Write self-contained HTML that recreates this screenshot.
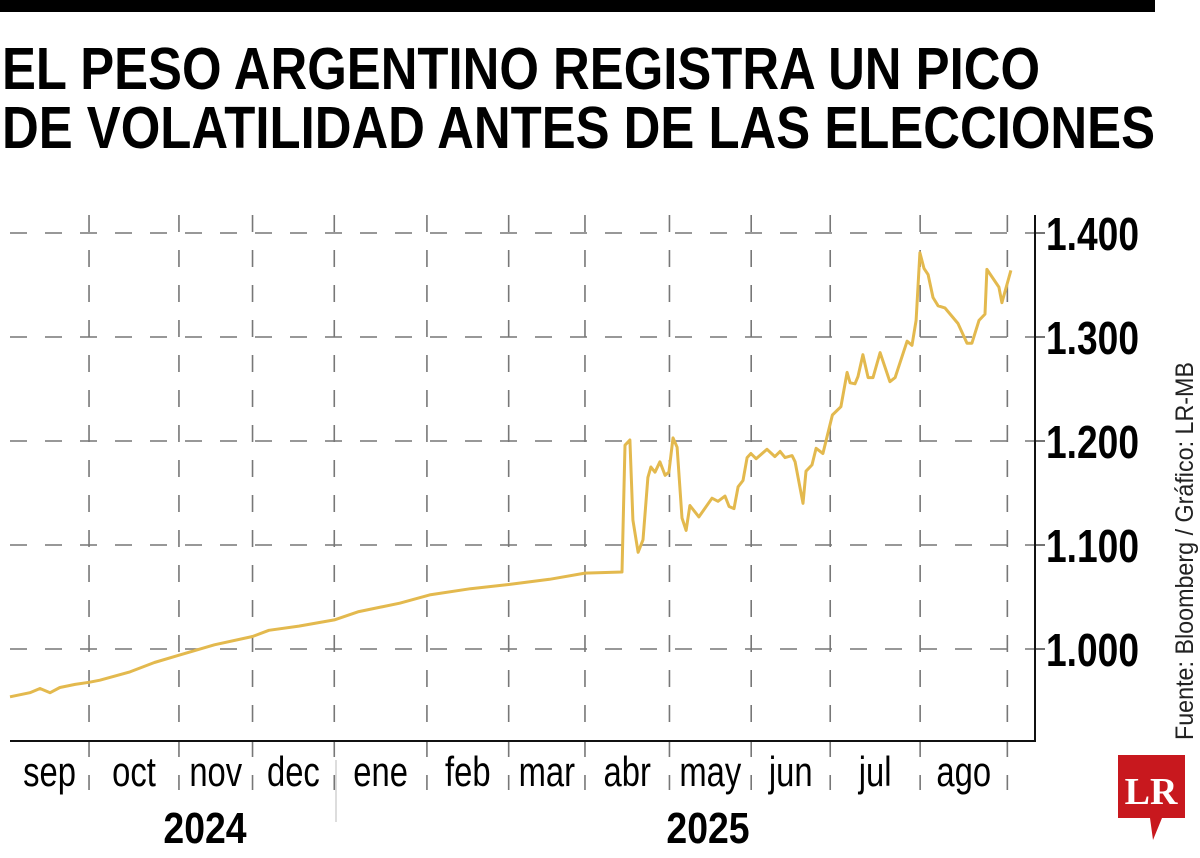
<!DOCTYPE html>
<html><head><meta charset="utf-8"><style>
html,body{margin:0;padding:0;background:#fff;width:1200px;height:858px;overflow:hidden}
svg{display:block}
text{font-family:"Liberation Sans",sans-serif}
</style></head><body>
<svg id="chart" width="1200" height="858" viewBox="0 0 1200 858" xmlns="http://www.w3.org/2000/svg">
<rect x="0" y="0" width="1155" height="12" fill="#000"/>
<text x="2" y="89" font-size="59" font-weight="bold" textLength="1038" lengthAdjust="spacingAndGlyphs">EL PESO ARGENTINO REGISTRA UN PICO</text>
<text x="2" y="148" font-size="59" font-weight="bold" textLength="1153" lengthAdjust="spacingAndGlyphs">DE VOLATILIDAD ANTES DE LAS ELECCIONES</text>
<g id="grid"></g>
<g id="axes"></g>
<g id="series"></g>
<text transform="translate(1193,740) rotate(-90)" font-size="25" textLength="378" lengthAdjust="spacingAndGlyphs" fill="#222">Fuente: Bloomberg / Gráfico: LR-MB</text>
<g>
<path d="M1118 755 H1185 V818 H1162 L1153 840 L1150 818 H1118 Z" fill="#c8181e"/>
<text x="1151" y="804" style="font-family:'Liberation Serif',serif;font-weight:bold" font-size="38" fill="#fff" text-anchor="middle">LR</text>
</g>
</svg>
<script>
const months=["sep","oct","nov","dec","ene","feb","mar","abr","may","jun","jul","ago"];
const monthBounds=[0,29,62,89,119,153,183,211,242,272,301,334,366];
const yTicks=[1000,1100,1200,1300,1400];
const yTickLabels=["1.000","1.100","1.200","1.300","1.400"];
const days=[0,7.3,11,14.7,18.3,23.9,29,33,44,53,62,75,89,95,106,119,128,143,154,169,183,198,211,224.6,225.7,227.5,228.6,230.5,232.3,234.1,235.2,236.7,238.5,240.4,241.8,243.3,244.8,246.6,248.1,249.5,252.8,257.6,259.8,262.4,263.9,265.7,267.2,269,270.5,271.9,273.8,277.8,280.7,282.6,284.4,287,288.1,291,292.1,294.3,295.8,298.3,301.8,304.9,307.2,308.3,310.1,311.2,313,314.9,316.7,319.3,322.9,324.8,329.2,331,332.5,333.9,335.4,336.9,338.7,340.6,343.1,347.9,351.2,353,355.6,357.8,358.5,362.9,364,367.3];
const values=[954,958,962,958,963,966,968,970,978,987,994,1004,1012,1018,1022,1028,1036,1044,1052,1058,1062,1067,1073,1074,1196,1201,1124,1093,1105,1165,1175,1170,1180,1167,1170,1203,1194,1126,1114,1138,1127,1145,1142,1147,1137,1135,1156,1162,1184,1188,1183,1192,1185,1190,1184,1186,1180,1140,1171,1177,1193,1188,1225,1233,1266,1256,1255,1262,1283,1261,1261,1285,1257,1261,1296,1292,1316,1381,1366,1360,1338,1330,1328,1313,1294,1294,1316,1322,1365,1348,1333,1364];
const X=d=>10+d*2.725;
const Y=v=>649-(v-1000)*1.04;
const NS="http://www.w3.org/2000/svg";
function mk(tag,attrs,parent){const e=document.createElementNS(NS,tag);for(const k in attrs)e.setAttribute(k,attrs[k]);parent.appendChild(e);return e;}
const grid=document.getElementById('grid'),axes=document.getElementById('axes'),series=document.getElementById('series');
yTicks.forEach((t,i)=>{
  const l=mk('line',{x1:10,x2:1035,y1:Y(t),y2:Y(t),stroke:'#777','stroke-width':1.6,'stroke-dasharray':'17 18'},grid);
  
  
  const tk=mk('line',{x1:1035,x2:1045,y1:Y(t),y2:Y(t),stroke:'#444','stroke-width':1.5},axes);
  
  
  const tx=mk('text',{x:1046,y:Y(t)+17,'font-size':46,'font-weight':'bold',textLength:93,lengthAdjust:'spacingAndGlyphs'},axes);
  tx.textContent=yTickLabels[i];
  
  
});
for(let i=1;i<monthBounds.length;i++){
  const x=X(monthBounds[i]);
  const l=mk('line',{x1:x,x2:x,y1:215,y2:790,stroke:'#777','stroke-width':1.6,'stroke-dasharray':'17 18'},grid);
  
  
}
months.forEach((m,i)=>{
  const cx=(X(monthBounds[i])+X(monthBounds[i+1]))/2;
  const t=mk('text',{x:cx,y:786,'font-size':42,'text-anchor':'middle',transform:`translate(${cx},0) scale(0.78,1) translate(${-cx},0)`},axes);
  t.textContent=m;
  
  
});
const ax=mk('line',{x1:10,x2:1035,y1:741,y2:741,stroke:'#111','stroke-width':2},axes);


const ay=mk('line',{x1:1035,x2:1035,y1:215,y2:742,stroke:'#111','stroke-width':2},axes);


const sep=mk('line',{x1:336,x2:336,y1:760,y2:822,stroke:'#bbb','stroke-width':1},axes);


[["2024",205],["2025",708]].forEach(([s,cx])=>{
  const t=mk('text',{x:cx,y:843,'font-size':44,'font-weight':'bold','text-anchor':'middle',transform:`translate(${cx},0) scale(0.85,1) translate(${-cx},0)`},axes);
  t.textContent=s;
  
  
});
const p=mk('polyline',{points:days.map((d,i)=>X(d).toFixed(1)+','+Y(values[i]).toFixed(1)).join(' '),fill:'none',stroke:'#e3b94e','stroke-width':3,'stroke-linejoin':'round'},series);


</script>
</body></html>
